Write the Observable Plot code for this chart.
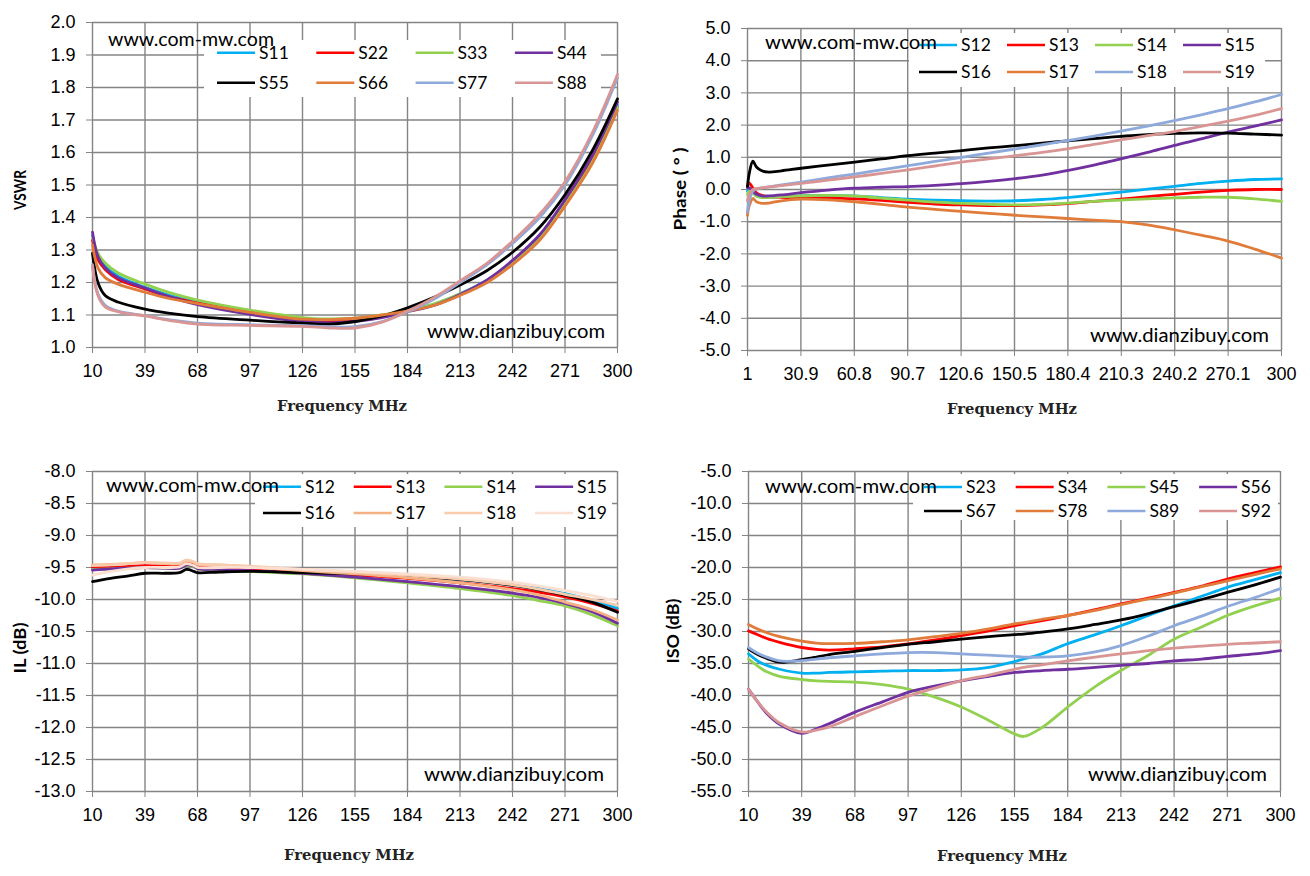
<!DOCTYPE html>
<html>
<head>
<meta charset="utf-8">
<script src="https://cdn.jsdelivr.net/npm/d3@7"></script>
<script src="https://cdn.jsdelivr.net/npm/@observablehq/plot@0.6"></script>
<style>
  html, body { margin: 0; padding: 0; background: #fff; }
  #wrap { position: relative; width: 1310px; height: 876px; background: #fff; overflow: hidden; }
  .panel { position: absolute; }
  #overlay { position: absolute; left: 0; top: 0; pointer-events: none; }
</style>
</head>
<body>
<div id="wrap">
  <div class="panel" id="p1" style="left:0;top:0"></div>
  <div class="panel" id="p2" style="left:655px;top:0"></div>
  <div class="panel" id="p3" style="left:0;top:438px"></div>
  <div class="panel" id="p4" style="left:655px;top:438px"></div>
  <svg id="overlay" width="1310" height="876"></svg>
</div>
<script>
// ---------- Panel 1: VSWR ----------
const vswrFreq = [10,13,17,24,39,53,68,97,126,141,155,170,184,199,213,228,242,257,271,286,300];
const vswrS11 = [1.345,1.28,1.25,1.22,1.185,1.16,1.14,1.11,1.087,1.083,1.085,1.097,1.113,1.133,1.165,1.207,1.262,1.34,1.445,1.58,1.745];
const vswrS22 = [1.33,1.27,1.24,1.21,1.18,1.155,1.137,1.107,1.085,1.082,1.085,1.097,1.113,1.132,1.163,1.205,1.26,1.337,1.442,1.575,1.74];
const vswrS33 = [1.34,1.29,1.26,1.23,1.195,1.168,1.146,1.115,1.092,1.088,1.09,1.1,1.115,1.135,1.165,1.205,1.26,1.335,1.44,1.57,1.74];
const vswrS44 = [1.355,1.28,1.245,1.215,1.183,1.155,1.132,1.102,1.08,1.076,1.08,1.092,1.11,1.13,1.163,1.208,1.268,1.347,1.455,1.59,1.755];
const vswrS55 = [1.29,1.2,1.16,1.14,1.118,1.105,1.095,1.084,1.075,1.072,1.08,1.097,1.122,1.155,1.192,1.237,1.293,1.37,1.47,1.605,1.765];
const vswrS66 = [1.315,1.245,1.215,1.195,1.17,1.15,1.135,1.108,1.087,1.086,1.09,1.1,1.112,1.13,1.16,1.2,1.255,1.33,1.435,1.565,1.73];
const vswrS77 = [1.255,1.165,1.13,1.112,1.098,1.085,1.075,1.07,1.067,1.064,1.064,1.08,1.11,1.15,1.2,1.255,1.32,1.4,1.5,1.65,1.83];
const vswrS88 = [1.25,1.16,1.125,1.11,1.097,1.083,1.072,1.068,1.065,1.06,1.06,1.078,1.112,1.155,1.205,1.26,1.327,1.41,1.51,1.66,1.84];
const vswrNames = ["S11","S22","S33","S44","S55","S66","S77","S88"];
const vswrColors = ["#00B0F0","#FF0000","#92D050","#7030A0","#000000","#E07B39","#8EA9DB","#D99594"];
const vswrXTicks = [10,39,68,97,126,155,184,213,242,271,300];
const vswrYTicks = [1.0,1.1,1.2,1.3,1.4,1.5,1.6,1.7,1.8,1.9,2.0];

// ---------- Panel 2: Phase ----------
const phaseFreq = [1,2,4,6,9,13,20,31,46,61,76,91,106,121,136,151,166,180,195,210,225,240,255,270,285,300];
const phaseS12 = [-0.05,0.0,-0.1,-0.2,-0.24,-0.24,-0.22,-0.2,-0.18,-0.2,-0.25,-0.3,-0.33,-0.35,-0.36,-0.35,-0.31,-0.25,-0.17,-0.08,0.01,0.1,0.19,0.26,0.31,0.33];
const phaseS13 = [0.1,0.2,0.05,-0.1,-0.18,-0.22,-0.24,-0.25,-0.26,-0.29,-0.34,-0.4,-0.45,-0.48,-0.5,-0.5,-0.48,-0.44,-0.37,-0.3,-0.22,-0.15,-0.08,-0.03,0.0,0.0];
const phaseS14 = [-0.15,-0.05,-0.1,-0.2,-0.25,-0.25,-0.22,-0.2,-0.18,-0.2,-0.27,-0.33,-0.39,-0.43,-0.46,-0.48,-0.46,-0.42,-0.37,-0.33,-0.29,-0.26,-0.24,-0.24,-0.29,-0.37];
const phaseS15 = [0.05,0.05,-0.05,-0.15,-0.2,-0.2,-0.17,-0.1,-0.02,0.04,0.07,0.09,0.13,0.18,0.25,0.34,0.45,0.59,0.76,0.95,1.15,1.37,1.57,1.78,1.97,2.16];
const phaseS16 = [0.1,0.5,0.88,0.7,0.58,0.54,0.58,0.66,0.76,0.85,0.95,1.05,1.13,1.21,1.29,1.36,1.44,1.51,1.58,1.65,1.7,1.74,1.76,1.75,1.72,1.69];
const phaseS17 = [-0.8,-0.5,-0.28,-0.38,-0.43,-0.42,-0.35,-0.3,-0.32,-0.38,-0.46,-0.55,-0.62,-0.68,-0.74,-0.8,-0.85,-0.9,-0.95,-1.0,-1.1,-1.25,-1.42,-1.6,-1.85,-2.13];
const phaseS18 = [-0.7,-0.35,-0.05,0.02,0.05,0.08,0.14,0.23,0.36,0.48,0.61,0.74,0.87,1.0,1.13,1.26,1.39,1.52,1.66,1.81,1.97,2.14,2.32,2.51,2.72,2.95];
const phaseS19 = [-0.35,-0.15,0.0,0.03,0.05,0.08,0.12,0.19,0.29,0.39,0.5,0.61,0.73,0.85,0.95,1.05,1.15,1.26,1.4,1.54,1.67,1.8,1.96,2.12,2.3,2.51];
const phaseNames = ["S12","S13","S14","S15","S16","S17","S18","S19"];
const phaseColors = ["#00B0F0","#FF0000","#92D050","#7030A0","#000000","#E07B39","#8EA9DB","#D99594"];
const phaseXTicks = [1,30.9,60.8,90.7,120.6,150.5,180.4,210.3,240.2,270.1,300];
const phaseXLabels = ["1","30.9","60.8","90.7","120.6","150.5","180.4","210.3","240.2","270.1","300"];
const phaseYTicks = [-5,-4,-3,-2,-1,0,1,2,3,4,5];

// ---------- Panel 3: IL ----------
const ilFreq = [10,20,30,39,50,58,62,66,68,80,97,126,155,184,213,242,257,271,286,300];
const ilS12 = [-9.52,-9.51,-9.5,-9.49,-9.5,-9.5,-9.46,-9.48,-9.51,-9.53,-9.55,-9.58,-9.61,-9.64,-9.69,-9.77,-9.83,-9.91,-10.01,-10.14];
const ilS13 = [-9.5,-9.5,-9.48,-9.47,-9.48,-9.48,-9.44,-9.46,-9.49,-9.51,-9.54,-9.58,-9.62,-9.67,-9.74,-9.83,-9.89,-9.96,-10.06,-10.18];
const ilS14 = [-9.53,-9.52,-9.51,-9.5,-9.51,-9.51,-9.47,-9.49,-9.52,-9.54,-9.56,-9.6,-9.66,-9.74,-9.83,-9.94,-10.02,-10.1,-10.24,-10.41];
const ilS15 = [-9.54,-9.52,-9.51,-9.5,-9.51,-9.51,-9.46,-9.48,-9.52,-9.53,-9.55,-9.59,-9.65,-9.72,-9.8,-9.9,-9.97,-10.06,-10.19,-10.37];
const ilS16 = [-9.72,-9.67,-9.63,-9.59,-9.59,-9.58,-9.53,-9.56,-9.58,-9.57,-9.56,-9.58,-9.6,-9.63,-9.69,-9.78,-9.85,-9.93,-10.04,-10.2];
const ilS17 = [-9.46,-9.45,-9.44,-9.42,-9.44,-9.44,-9.39,-9.42,-9.45,-9.46,-9.49,-9.55,-9.6,-9.66,-9.74,-9.85,-9.93,-10.04,-10.16,-10.32];
const ilS18 = [-9.47,-9.46,-9.44,-9.42,-9.43,-9.43,-9.38,-9.41,-9.44,-9.46,-9.48,-9.53,-9.57,-9.62,-9.68,-9.77,-9.84,-9.92,-10.0,-10.09];
const ilS19 = [-9.62,-9.56,-9.52,-9.5,-9.5,-9.49,-9.44,-9.47,-9.5,-9.5,-9.5,-9.53,-9.56,-9.6,-9.65,-9.73,-9.79,-9.86,-9.94,-10.03];
const ilNames = ["S12","S13","S14","S15","S16","S17","S18","S19"];
const ilColors = ["#00B0F0","#FF0000","#92D050","#7030A0","#000000","#F4B183","#F8CBAD","#FBE0D2"];
const ilXTicks = [10,39,68,97,126,155,184,213,242,271,300];
const ilYTicks = [-13,-12.5,-12,-11.5,-11,-10.5,-10,-9.5,-9,-8.5,-8];

// ---------- Panel 4: ISO ----------
const isoFreq = [10,15,20,27,39,47,54,68,83,97,112,126,141,155,160,170,184,199,213,228,242,257,271,286,300];
const isoS23 = [-33.5,-34.6,-35.3,-35.9,-36.5,-36.5,-36.4,-36.3,-36.2,-36.1,-36.1,-36.0,-35.6,-34.7,-34.3,-33.5,-31.9,-30.5,-29.1,-27.5,-26.0,-24.5,-23.1,-21.9,-20.8];
const isoS34 = [-29.9,-30.5,-31.1,-31.7,-32.5,-32.8,-32.9,-32.7,-32.4,-31.95,-31.3,-30.65,-29.9,-29.1,-28.8,-28.3,-27.5,-26.6,-25.7,-24.8,-23.9,-22.9,-21.8,-20.8,-19.9];
const isoS45 = [-34.3,-35.4,-36.3,-37.0,-37.5,-37.7,-37.8,-37.9,-38.3,-39.0,-40.3,-41.8,-43.9,-46.0,-46.4,-45.0,-41.8,-38.6,-36.1,-33.7,-31.2,-29.3,-27.5,-26.0,-24.8];
const isoS56 = [-39.0,-41.0,-42.8,-44.5,-45.9,-45.2,-44.4,-42.6,-41.0,-39.5,-38.5,-37.7,-37.0,-36.4,-36.3,-36.1,-35.9,-35.6,-35.3,-35.0,-34.6,-34.3,-33.9,-33.5,-33.0];
const isoS67 = [-32.7,-33.6,-34.2,-34.8,-34.4,-34.0,-33.6,-33.1,-32.5,-32.0,-31.6,-31.2,-30.8,-30.5,-30.4,-30.1,-29.6,-28.9,-28.2,-27.2,-26.1,-25.0,-23.9,-22.7,-21.5];
const isoS78 = [-28.9,-29.6,-30.2,-30.8,-31.5,-31.8,-31.9,-31.85,-31.6,-31.3,-30.8,-30.3,-29.6,-28.8,-28.6,-28.1,-27.5,-26.7,-25.8,-24.9,-24.0,-23.0,-22.1,-21.1,-20.2];
const isoS89 = [-32.5,-33.4,-34.0,-34.6,-34.55,-34.3,-34.1,-33.8,-33.5,-33.3,-33.3,-33.5,-33.7,-33.9,-34.0,-34.0,-33.8,-33.2,-32.2,-30.7,-29.1,-27.6,-26.1,-24.7,-23.3];
const isoS92 = [-39.0,-41.0,-42.6,-44.3,-45.7,-45.4,-44.9,-43.3,-41.6,-40.1,-38.8,-37.7,-36.8,-35.9,-35.6,-35.2,-34.6,-34.0,-33.5,-33.0,-32.6,-32.3,-32.0,-31.8,-31.6];
const isoNames = ["S23","S34","S45","S56","S67","S78","S89","S92"];
const isoColors = ["#00B0F0","#FF0000","#92D050","#7030A0","#000000","#E07B39","#8EA9DB","#D99594"];
const isoXTicks = [10,39,68,97,126,155,184,213,242,271,300];
const isoYTicks = [-55,-50,-45,-40,-35,-30,-25,-20,-15,-10,-5];

// ---------- build ----------
function longRows(freq, names, seriesArr) {
  const rows = [];
  names.forEach((n, k) => seriesArr[k].forEach((v, i) => rows.push({s: n, f: freq[i], v})));
  return rows;
}
const GRID = "#848484";
function panel(cfg) {
  const rows = longRows(cfg.freq, cfg.names, cfg.series);
  return Plot.plot({
    width: 655, height: 438,
    marginLeft: cfg.m[0], marginRight: cfg.m[1], marginTop: cfg.m[2], marginBottom: cfg.m[3],
    style: {fontFamily: "'Liberation Sans', Arial, sans-serif", fontSize: "18px", color: "#000", background: "transparent", overflow: "visible"},
    x: {domain: cfg.xDomain},
    y: {domain: cfg.yDomain},
    color: {domain: cfg.names, range: cfg.colors},
    marks: [
      Plot.gridX(cfg.xTicks, {stroke: GRID, strokeOpacity: 1, strokeWidth: 1.4}),
      Plot.gridY(cfg.yTicks, {stroke: GRID, strokeOpacity: 1, strokeWidth: 1.4}),
      Plot.axisX(cfg.xTicks, {tickFormat: cfg.xFormat, tickSize: 6, tickPadding: 11, stroke: GRID, fill: "#000", label: null}),
      Plot.axisY(cfg.yTicks, {tickFormat: d => d.toFixed(1), tickSize: 6, tickPadding: 11, stroke: GRID, fill: "#000", label: null}),
      Plot.line(rows, {x: "f", y: "v", z: "s", stroke: "s", strokeWidth: 2.8, curve: "catmull-rom"})
    ]
  });
}

document.getElementById("p1").appendChild(panel({
  freq: vswrFreq, names: vswrNames, colors: vswrColors,
  series: [vswrS11, vswrS22, vswrS33, vswrS44, vswrS55, vswrS66, vswrS77, vswrS88],
  m: [92, 38, 22, 91], xDomain: [10, 300], yDomain: [1, 2],
  xTicks: vswrXTicks, yTicks: vswrYTicks, xFormat: d => String(d)
}));
document.getElementById("p2").appendChild(panel({
  freq: phaseFreq, names: phaseNames, colors: phaseColors,
  series: [phaseS12, phaseS13, phaseS14, phaseS15, phaseS16, phaseS17, phaseS18, phaseS19],
  m: [92, 29, 28, 88], xDomain: [1, 300], yDomain: [-5, 5],
  xTicks: phaseXTicks, yTicks: phaseYTicks, xFormat: (d, i) => phaseXLabels[i]
}));
document.getElementById("p3").appendChild(panel({
  freq: ilFreq, names: ilNames, colors: ilColors,
  series: [ilS12, ilS13, ilS14, ilS15, ilS16, ilS17, ilS18, ilS19],
  m: [92, 38, 33, 85], xDomain: [10, 300], yDomain: [-13, -8],
  xTicks: ilXTicks, yTicks: ilYTicks, xFormat: d => String(d)
}));
document.getElementById("p4").appendChild(panel({
  freq: isoFreq, names: isoNames, colors: isoColors,
  series: [isoS23, isoS34, isoS45, isoS56, isoS67, isoS78, isoS89, isoS92],
  m: [93, 30, 33, 85], xDomain: [10, 300], yDomain: [-55, -5],
  xTicks: isoXTicks, yTicks: isoYTicks, xFormat: d => String(d)
}));

// ---------- overlay: legends, watermarks, axis titles ----------
const ov = d3.select("#overlay");
const CAL = "Lato, 'Open Sans', sans-serif";
function legendBox(x, y, w, h) {
  ov.append("rect").attr("x", x).attr("y", y).attr("width", w).attr("height", h).attr("fill", "#fff");
}
function legend(names, colors, x0, dx, rows) {
  names.forEach((n, i) => {
    const col = i % 4, row = Math.floor(i / 4);
    const lx = x0 + col * dx, ly = rows[row];
    ov.append("line").attr("x1", lx).attr("x2", lx + 38).attr("y1", ly).attr("y2", ly)
      .attr("stroke", colors[i]).attr("stroke-width", 2.6);
    ov.append("text").attr("x", lx + 42).attr("y", ly).attr("dy", "0.35em")
      .attr("font-family", CAL).attr("font-size", 17.5).attr("fill", "#000").text(n);
  });
}
function wm(text, x, y, len, anchor) {
  ov.append("text").attr("x", x).attr("y", y).attr("dy", "0.35em")
    .attr("text-anchor", anchor || "start")
    .attr("font-family", CAL).attr("font-size", 18.5).attr("fill", "#000")
    .attr("textLength", len).attr("lengthAdjust", "spacingAndGlyphs").text(text);
}
function ytitle(text, x, y, len) {
  ov.append("text").attr("transform", `translate(${x},${y}) rotate(-90)`)
    .attr("text-anchor", "middle").attr("dy", "0.35em")
    .attr("font-family", CAL).attr("font-weight", "bold").attr("font-size", 17).attr("fill", "#000")
    .attr("textLength", len).attr("lengthAdjust", "spacingAndGlyphs").text(text);
}
function xtitle(text, x, y) {
  ov.append("text").attr("x", x - 65).attr("y", y).attr("dy", "0.35em")
    .attr("font-family", "'DejaVu Serif', 'Liberation Serif', serif").attr("font-weight", "bold")
    .attr("font-size", 15.5).attr("fill", "#222")
    .attr("textLength", 130).attr("lengthAdjust", "spacingAndGlyphs").text(text);
}

// panel 1
legendBox(204, 40, 397, 57);
legend(vswrNames, vswrColors, 217, 99.3, [52.7, 82.7]);
wm("www.com-mw.com", 108, 40, 166);
wm("www.dianzibuy.com", 427, 332, 178);
ytitle("VSWR", 20, 190, 40);
xtitle("Frequency MHz", 342, 406);

// panel 2
legendBox(909, 33, 356, 54);
legend(phaseNames, phaseColors, 919, 88, [45, 72]);
wm("www.com-mw.com", 765, 43, 172);
wm("www.dianzibuy.com", 1090, 336, 179);
ytitle("Phase ( ° )", 680, 189, 83);
xtitle("Frequency MHz", 1012, 409);

// panel 3
legendBox(255, 474, 357, 53);
legend(ilNames, ilColors, 263, 90.7, [486.7, 513]);
wm("www.com-mw.com", 106, 486, 173);
wm("www.dianzibuy.com", 424, 775, 180);
ytitle("IL (dB)", 20, 648, 51);
xtitle("Frequency MHz", 349, 855);

// panel 4
legendBox(913, 474, 365, 46);
legend(isoNames, isoColors, 924, 91.7, [487, 511]);
wm("www.com-mw.com", 765, 487, 172);
wm("www.dianzibuy.com", 1088, 775, 179);
ytitle("ISO (dB)", 673, 631, 65);
xtitle("Frequency MHz", 1002, 856);
</script>
</body>
</html>
